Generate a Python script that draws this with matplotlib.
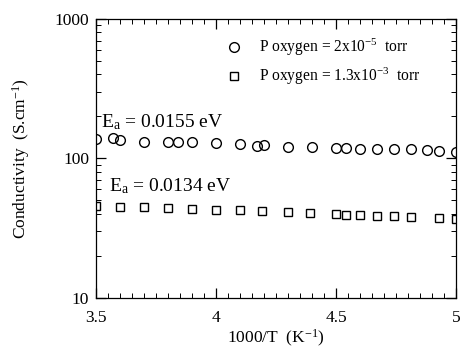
import matplotlib
matplotlib.use("Agg")
import matplotlib.pyplot as plt
from matplotlib.ticker import MultipleLocator, LogLocator, NullFormatter, FixedLocator

plt.rcParams['font.family'] = ['Liberation Serif', 'DejaVu Serif']
plt.rcParams['mathtext.fontset'] = 'custom'
plt.rcParams['mathtext.rm'] = 'Liberation Serif'
plt.rcParams['mathtext.it'] = 'Liberation Serif'

# P oxygen = 2x10^-5 torr (circles)
x_low = [3.5, 3.57, 3.6, 3.7, 3.8, 3.84, 3.9, 4.0, 4.1, 4.17, 4.2, 4.3,
         4.4, 4.5, 4.54, 4.6, 4.67, 4.74, 4.81, 4.88, 4.93, 5.0]
y_low = [137, 141, 135, 132, 131, 131, 131, 129, 127, 122, 125, 121,
         120, 118, 118, 117, 117, 116, 116, 115, 114, 112]

# P oxygen = 1.3x10^-3 torr (squares)
x_high = [3.5, 3.6, 3.7, 3.8, 3.9, 4.0, 4.1, 4.19, 4.3, 4.39, 4.5,
          4.54, 4.6, 4.67, 4.74, 4.81, 4.93, 5.0]
y_high = [45.7, 45.0, 44.6, 44.0, 43.3, 42.6, 42.6, 42.1, 41.5, 40.6,
          40.0, 39.6, 39.4, 39.0, 38.4, 37.9, 37.4, 36.8]

labels = ["P oxygen = 2x10$^{-5}$  torr", "P oxygen = 1.3x10$^{-3}$  torr"]

fig = plt.figure(figsize=(4.64, 3.51), dpi=100)
ax = fig.add_axes([0.207, 0.151, 0.776, 0.795])

l1, = ax.plot(x_low, y_low, 'o', ms=7, mfc='none', mec='black', mew=1.0)
l2, = ax.plot(x_high, y_high, 's', ms=6.2, mfc='none', mec='black', mew=1.0)

ax.set_yscale('log')
ax.set_xlim(3.5, 5)
ax.set_ylim(10, 1000)

ax.xaxis.set_major_locator(FixedLocator([3.5, 4, 4.5, 5]))
ax.set_xticklabels(['3.5', '4', '4.5', '5'])
ax.xaxis.set_minor_locator(MultipleLocator(0.05))
ax.yaxis.set_major_locator(FixedLocator([10, 100, 1000]))
ax.set_yticklabels(['10', '100', '1000'])
ax.yaxis.set_minor_locator(LogLocator(base=10, subs=range(2, 10)))
ax.yaxis.set_minor_formatter(NullFormatter())

ax.tick_params(which='both', direction='in', top=True, right=True, labelsize=12.5)
ax.tick_params(which='major', length=7, width=0.9)
ax.tick_params(which='minor', length=3.5, width=0.7)
ax.tick_params(axis='x', which='major', pad=9)
ax.tick_params(axis='y', which='major', pad=5)
for s in ax.spines.values():
    s.set_linewidth(0.9)

ax.set_xlabel("1000/T  (K$^{-1}$)", fontsize=12.5, labelpad=1)
ax.set_ylabel("Conductivity  (S.cm$^{-1}$)", fontsize=12.5, labelpad=16)

ax.text(3.52, 166, "E$_a$ = 0.0155 eV", fontsize=14)
ax.text(3.555, 58, "E$_a$ = 0.0134 eV", fontsize=14)

ax.legend([l1, l2], labels, loc='upper right', frameon=False, fontsize=11.2,
          handletextpad=0.6, labelspacing=0.5, borderaxespad=0.3,
          bbox_to_anchor=(0.93, 0.975))

fig.savefig("out.png", dpi=100)
